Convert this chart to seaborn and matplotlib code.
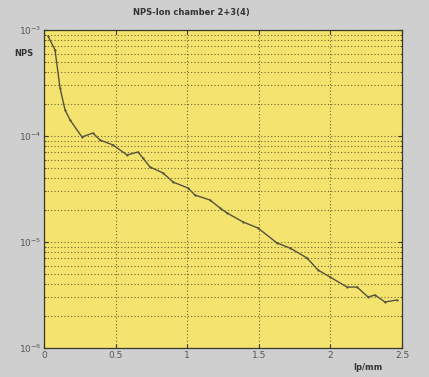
import numpy as np
import pandas as pd
import seaborn as sns
import matplotlib
matplotlib.use("Agg")
import matplotlib.pyplot as plt
from matplotlib.ticker import LogLocator

# data (lp/mm vs NPS)
freq = [0.028, 0.077, 0.112, 0.147, 0.182, 0.265, 0.342, 0.391, 0.482, 0.580,
        0.656, 0.691, 0.740, 0.831, 0.901, 1.006, 1.054, 1.159, 1.229, 1.278,
        1.390, 1.494, 1.627, 1.718, 1.837, 1.913, 1.997, 2.116, 2.186, 2.263,
        2.311, 2.381, 2.465]
log_nps = [-3.057, -3.189, -3.547, -3.755, -3.849, -4.009, -3.972, -4.038, -4.085, -4.179,
           -4.151, -4.208, -4.292, -4.349, -4.434, -4.491, -4.557, -4.604, -4.679, -4.726,
           -4.811, -4.868, -5.009, -5.057, -5.151, -5.264, -5.330, -5.425, -5.425, -5.519,
           -5.500, -5.566, -5.547]
xticks = [0, 0.5, 1, 1.5, 2, 2.5]
xtick_labels = ["0", "0.5", "1", "1.5", "2", "2.5"]

df = pd.DataFrame({"lp/mm": freq, "NPS": 10.0 ** np.array(log_nps)})

sns.set_style("ticks")
plt.rcParams['font.family'] = ['DejaVu Sans']

fig = plt.figure(figsize=(4.29, 3.77), dpi=100, facecolor="#cfcfcf")
ax = fig.add_axes([44 / 429, 1 - 348 / 377, 358 / 429, 318 / 377])
ax.set_facecolor("#f4e46f")

sns.lineplot(data=df, x="lp/mm", y="NPS", ax=ax, color="#55533c", linewidth=1.0,
             marker="o", markersize=1.6, markeredgewidth=0)

ax.set_yscale("log")
ax.set_xlim(0, 2.5)
ax.set_ylim(1e-6, 1e-3)
ax.set_xticks(xticks)
ax.set_xticklabels(xtick_labels)
ax.yaxis.set_minor_locator(LogLocator(base=10, subs=np.arange(2, 10)))

ax.grid(True, which="major", axis="both", color="#6e6530", linestyle=(0, (1, 2)), linewidth=0.8)
ax.grid(True, which="minor", axis="y", color="#6e6530", linestyle=(0, (1, 2)), linewidth=0.8)

for s in ax.spines.values():
    s.set_color("#3a3a2a")
    s.set_linewidth(0.9)
ax.tick_params(which="both", direction="in", top=True, right=True, length=3,
               labelsize=6.5, labelcolor="#555555", color="#3a3a2a", pad=2)
ax.tick_params(which="minor", length=1.5)

ax.set_xlabel("")
ax.set_ylabel("")
fig.text(191 / 429, 1 - 13 / 377, "NPS-Ion chamber 2+3(4)", ha="center", va="center",
         fontsize=6, fontweight="bold", color="#333333")
fig.text(24 / 429, 1 - 53 / 377, "NPS", ha="center", va="center",
         fontsize=6, fontweight="bold", color="#333333")
fig.text(368 / 429, 1 - 367 / 377, "lp/mm", ha="center", va="center",
         fontsize=6, fontweight="bold", color="#333333")

fig.savefig("out.png", dpi=100, facecolor=fig.get_facecolor())
